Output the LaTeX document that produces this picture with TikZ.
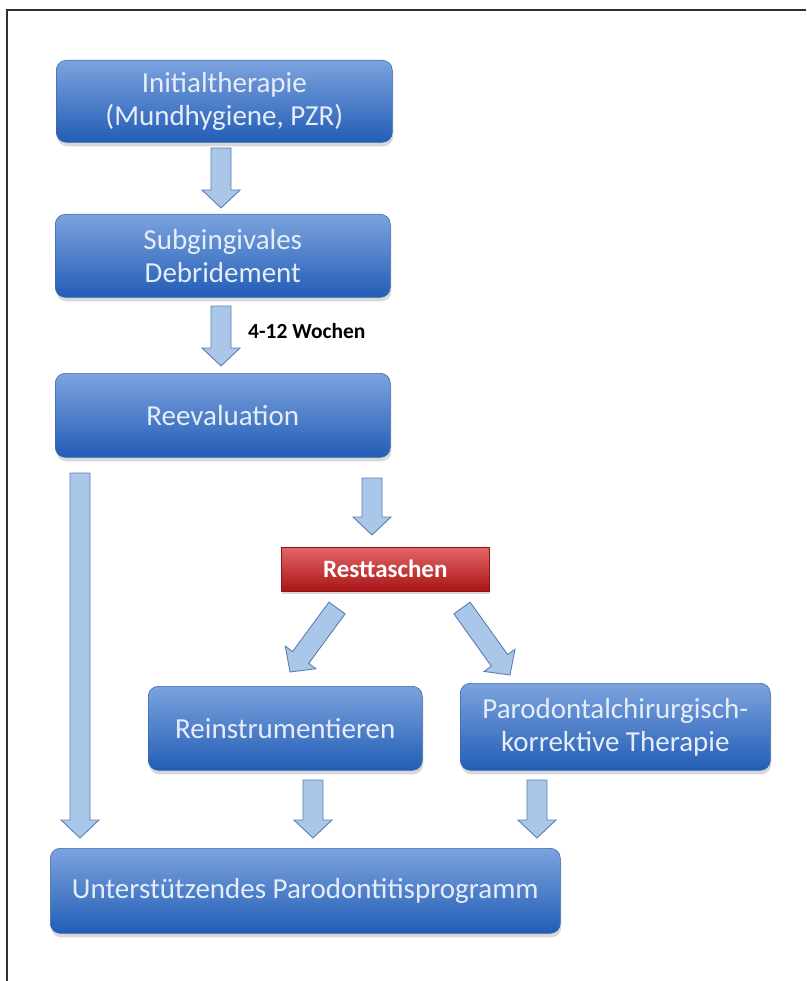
\documentclass[tikz,border=0pt]{standalone}
\usepackage{fontspec}
\setmainfont{Carlito}
\usetikzlibrary{calc,shadows}
\definecolor{boxtop}{HTML}{7CA3DE}
\definecolor{boxbot}{HTML}{225DB6}
\definecolor{boxedge}{HTML}{3A68AE}
\definecolor{boxtext}{HTML}{E6EDF8}
\definecolor{redtop}{HTML}{E26666}
\definecolor{redbot}{HTML}{AA1416}
\definecolor{rededge}{HTML}{8E1416}
\definecolor{arrfill}{HTML}{AAC6E9}
\definecolor{arredge}{HTML}{5B7EB4}
\definecolor{framecol}{HTML}{303030}
\tikzset{
  bluebox/.style={rounded corners=10pt, top color=boxtop, bottom color=boxbot,
    draw=boxedge, line width=0.6pt, text=boxtext,
    font=\fontsize{29}{33}\selectfont, align=center, inner sep=0pt,
    anchor=north west,
    drop shadow={shadow xshift=1pt, shadow yshift=-4pt, opacity=0.3, fill=gray}},
  redbox/.style={top color=redtop, bottom color=redbot, draw=rededge,
    line width=0.6pt, text=white, font=\fontsize{25}{29}\selectfont\bfseries,
    align=center, inner sep=0pt, anchor=north west,
    drop shadow={shadow xshift=1pt, shadow yshift=-3pt, opacity=0.3, fill=gray}},
  fatarrowstyle/.style={fill=arrfill, draw=arredge, line width=0.9pt, line join=miter},
  labeltext/.style={font=\fontsize{21.5}{25}\selectfont\bfseries, text=black, anchor=west, inner sep=0pt}
}
\newcommand\fatarrow[2]{%
  \path let \p1=($(#2)-(#1)$) in \pgfextra{\pgfmathsetmacro\fatlen{veclen(\x1,\y1)}\pgfmathsetmacro\fatang{atan2(\y1,\x1)}\xdef\fatlenG{\fatlen}\xdef\fatangG{\fatang}};
  \draw[fatarrowstyle, shift={(#1)}, rotate=\fatangG]
    (0pt,-10pt) -- ({\fatlenG pt-18pt},-10pt) -- ({\fatlenG pt-18pt},-19pt)
    -- (\fatlenG pt,0pt) -- ({\fatlenG pt-18pt},19pt) -- ({\fatlenG pt-18pt},10pt)
    -- (0pt,10pt) -- cycle;
}
\begin{document}
\begin{tikzpicture}[x=1pt,y=-1pt]
\useasboundingbox (0,0) rectangle (806,981);
\fill[white] (0,0) rectangle (806,981);
\draw[framecol, line width=1.5pt] (7,981) -- (7,10) -- (806,10);

\node[bluebox, minimum width=336pt, minimum height=82pt] (b1) at (56,60) {Initialtherapie\\(Mundhygiene, PZR)};
\node[bluebox, minimum width=335pt, minimum height=83pt] (b2) at (55,214) {Subgingivales\\Debridement};
\node[bluebox, minimum width=335pt, minimum height=84pt] (b3) at (55,373) {Reevaluation};
\node[redbox, minimum width=208pt, minimum height=44pt] (rt) at (281,547) {Resttaschen};
\node[bluebox, minimum width=274pt, minimum height=84pt] (b4) at (148,686) {Reinstrumentieren};
\node[bluebox, minimum width=310pt, minimum height=87pt] (b5) at (460,683) {Parodontalchirurgisch-\\korrektive Therapie};
\node[bluebox, minimum width=510pt, minimum height=85pt] (b6) at (50,848) {Unterstützendes Parodontitisprogramm};

\node[labeltext] (lbl) at (248,331) {4-12 Wochen};

\coordinate (a1s) at (221,148);  \coordinate (a1e) at (221,208);
\coordinate (a2s) at (221,306);  \coordinate (a2e) at (221,366);
\coordinate (a3s) at (80,473);   \coordinate (a3e) at (80,838);
\coordinate (a4s) at (372,478);  \coordinate (a4e) at (372,535);
\coordinate (a5s) at (337,608);  \coordinate (a5e) at (290,672);
\coordinate (a6s) at (462,608);  \coordinate (a6e) at (510,675);
\coordinate (a7s) at (313,780);  \coordinate (a7e) at (313,838);
\coordinate (a8s) at (537,780);  \coordinate (a8e) at (537,838);

\fatarrow{a1s}{a1e}
\fatarrow{a2s}{a2e}
\fatarrow{a3s}{a3e}
\fatarrow{a4s}{a4e}
\fatarrow{a5s}{a5e}
\fatarrow{a6s}{a6e}
\fatarrow{a7s}{a7e}
\fatarrow{a8s}{a8e}
\end{tikzpicture}
\end{document}
